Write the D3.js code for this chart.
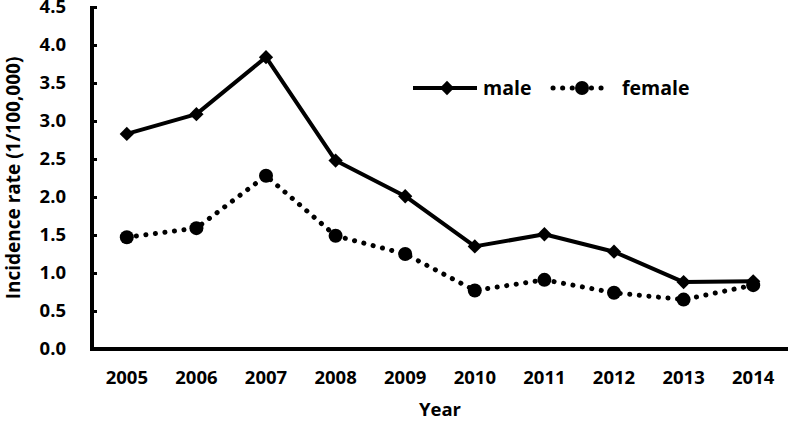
<!DOCTYPE html>
<html>
<head>
<meta charset="utf-8">
<script src="https://cdn.jsdelivr.net/npm/d3@7"></script>
<style>
  body { margin: 0; background: #fff; }
  text { font-family: "Open Sans", sans-serif; font-weight: bold; fill: #000; }
</style>
</head>
<body>
<svg width="789" height="421"></svg>
<script>
var years = ["2005","2006","2007","2008","2009","2010","2011","2012","2013","2014"]
var male = [2.83, 3.09, 3.84, 2.48, 2.01, 1.35, 1.51, 1.28, 0.88, 0.89]
var female = [1.47, 1.59, 2.28, 1.49, 1.25, 0.77, 0.91, 0.74, 0.65, 0.84]
var yTicks = [0, 0.5, 1, 1.5, 2, 2.5, 3, 3.5, 4, 4.5]

var svg = d3.select("svg")
var plotL = 92, plotR = 788, plotT = 7, plotB = 349

var x = d3.scaleBand().domain(years).range([plotL, plotR])
var y = d3.scaleLinear().domain([0, 4.5]).range([plotB, plotT])
var cx = d => x(d) + x.bandwidth() / 2

// y axis
var yAxis = d3.axisLeft(y).tickValues(yTicks).tickFormat(d3.format(".1f")).tickSize(-5).tickPadding(26)
var gy = svg.append("g").attr("transform", "translate(" + plotL + ",0)").call(yAxis)
gy.select(".domain").remove()
gy.selectAll(".tick line").attr("stroke", "#000").attr("stroke-width", 3)
gy.selectAll(".tick text").style("font-size", "18.5px")
svg.append("line").attr("x1", plotL).attr("x2", plotL).attr("y1", plotT - 1).attr("y2", plotB + 1.5)
  .attr("stroke", "#000").attr("stroke-width", 4)

// x axis
var xAxis = d3.axisBottom(x).tickSize(0).tickPadding(22)
var gx = svg.append("g").attr("transform", "translate(0," + plotB + ")").call(xAxis)
gx.select(".domain").remove()
gx.selectAll(".tick text").style("font-size", "18.5px")
svg.append("line").attr("x1", plotL - 2).attr("x2", plotR).attr("y1", plotB).attr("y2", plotB)
  .attr("stroke", "#000").attr("stroke-width", 4)

// titles
svg.append("text").attr("x", (plotL + plotR) / 2).attr("y", 416).attr("text-anchor", "middle")
  .style("font-size", "18.5px").text("Year")
svg.append("text").attr("transform", "translate(20," + (plotT + plotB) / 2 + ") rotate(-90)")
  .attr("text-anchor", "middle").style("font-size", "19px").text("Incidence rate (1/100,000)")

var line = d3.line().x(d => cx(d.year)).y(d => y(d.v))
var maleData = years.map((yr, i) => ({year: yr, v: male[i]}))
var femaleData = years.map((yr, i) => ({year: yr, v: female[i]}))

svg.append("path").datum(femaleData).attr("d", line).attr("fill", "none")
  .attr("stroke", "#000").attr("stroke-width", 5).attr("stroke-linecap", "round")
  .attr("stroke-dasharray", "0.1 9.5")
svg.selectAll("circle.f").data(femaleData).enter().append("circle").attr("class", "f")
  .attr("cx", d => cx(d.year)).attr("cy", d => y(d.v)).attr("r", 7).attr("fill", "#000")

svg.append("path").datum(maleData).attr("d", line).attr("fill", "none")
  .attr("stroke", "#000").attr("stroke-width", 4).attr("stroke-linejoin", "round")
var diamond = d3.symbol().type(d3.symbolDiamond2).size(130)
svg.selectAll("path.m").data(maleData).enter().append("path").attr("class", "m")
  .attr("d", diamond).attr("transform", d => "translate(" + cx(d.year) + "," + y(d.v) + ")")
  .attr("fill", "#000")

// legend
var lg = svg.append("g")
lg.append("line").attr("x1", 413).attr("x2", 477).attr("y1", 88).attr("y2", 88)
  .attr("stroke", "#000").attr("stroke-width", 4)
lg.append("path").attr("d", diamond).attr("transform", "translate(447,88)")
lg.append("text").attr("x", 483).attr("y", 95).style("font-size", "19.5px").text("male")
lg.append("line").attr("x1", 553).attr("x2", 610).attr("y1", 88).attr("y2", 88)
  .attr("stroke", "#000").attr("stroke-width", 5).attr("stroke-linecap", "round")
  .attr("stroke-dasharray", "0.1 9.5")
lg.append("circle").attr("cx", 582).attr("cy", 88).attr("r", 7)
lg.append("text").attr("x", 622).attr("y", 95).style("font-size", "19.5px").text("female")
</script>
</body>
</html>
